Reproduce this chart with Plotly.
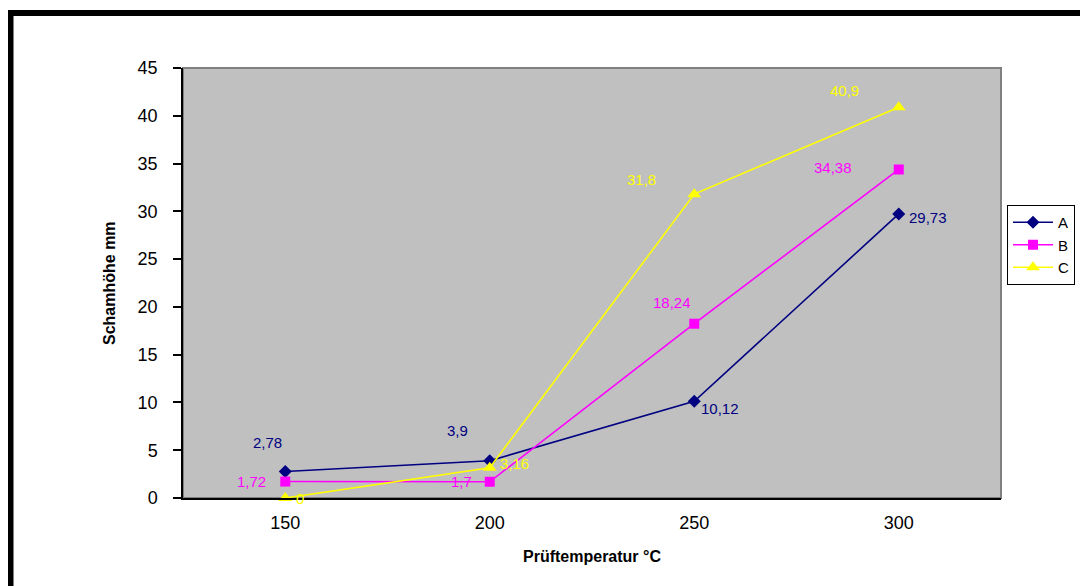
import plotly.graph_objects as go

categories = ["150", "200", "250", "300"]
series_names = ["A", "B", "C"]
values_a = [2.78, 3.9, 10.12, 29.73]
values_b = [1.72, 1.7, 18.24, 34.38]
values_c = [0, 3.16, 31.8, 40.9]
label_a = ["2,78", "3,9", "10,12", "29,73"]
label_b = ["1,72", "1,7", "18,24", "34,38"]
label_c = ["0", "3,16", "31,8", "40,9"]

colors = ["#000080", "#FF00FF", "#FFFF00"]
symbols = ["diamond", "square", "triangle-up"]
msizes = [10, 10, 12]
# label offsets (pixels) relative to each point
offsets = [
    [(-18, 29), (-32, 30), (26, -7), (29, -4)],
    [(-34, 0), (-28, 0), (-22, 21), (-66, 2)],
    [(15, 0), (25, 4), (-53, 15), (-54, 17)],
]

FONT = "Liberation Sans, Arial, sans-serif"
OFF = 8  # page body margin
W, H = 1088 - OFF, 586 - OFF
PL, PR, PT, PB = 183, 1001, 68, 498  # plot area in page coordinates
L, T = PL - OFF, PT - OFF
R, B = W - (PR - OFF), H - (PB - OFF)
pw, ph = PR - PL, PB - PT


def px(xp):
    return (xp - PL) / pw


def py(yp):
    return (PB - yp) / ph


fig = go.Figure()
all_vals = [values_a, values_b, values_c]
all_labels = [label_a, label_b, label_c]
annotations = []
for i, name in enumerate(series_names):
    fig.add_trace(go.Scatter(
        x=categories, y=all_vals[i], name=name, mode="lines+markers",
        line=dict(color=colors[i], width=1.6),
        marker=dict(symbol=symbols[i], size=msizes[i], color=colors[i]),
        cliponaxis=False,
    ))
    for j, cat in enumerate(categories):
        dx, dy = offsets[i][j]
        annotations.append(dict(
            x=j, y=all_vals[i][j], xref="x", yref="y", text=all_labels[i][j],
            showarrow=False, xshift=dx, yshift=dy,
            xanchor="center", yanchor="middle",
            font=dict(family=FONT, size=15, color=colors[i]),
        ))

# axis titles
annotations.append(dict(
    x=0.5, y=py(556), xref="paper", yref="paper", text="<b>Prüftemperatur °C</b>",
    showarrow=False, xanchor="center", yanchor="middle",
    font=dict(family=FONT, size=16, color="black"),
))
annotations.append(dict(
    x=px(109), y=0.5, xref="paper", yref="paper", text="<b>Schamhöhe mm</b>",
    showarrow=False, textangle=-90, xanchor="center", yanchor="middle",
    font=dict(family=FONT, size=16, color="black"),
))

shapes = [
    # plot area gray frame
    dict(type="rect", xref="paper", yref="paper", x0=0, x1=1, y0=0, y1=1,
         line=dict(color="#808080", width=2), layer="below"),
    # outer chart border (top-left visible)
    dict(type="rect", xref="paper", yref="paper",
         x0=px(10.5), x1=px(1150), y0=py(650), y1=py(13),
         line=dict(color="black", width=6)),
]

fig.update_layout(
    width=W, height=H,
    margin=dict(l=L, r=R, t=T, b=B, autoexpand=False),
    paper_bgcolor="white", plot_bgcolor="#C0C0C0",
    font=dict(family=FONT, color="black"),
    showlegend=True,
    legend=dict(
        x=px(1007), y=py(205), xanchor="left", yanchor="top",
        bordercolor="black", borderwidth=1, bgcolor="white",
        font=dict(family=FONT, size=15, color="black"),
        itemwidth=40,
    ),
    annotations=annotations, shapes=shapes,
)
fig.update_xaxes(
    type="category", categoryorder="array", categoryarray=categories,
    range=[-0.5, 3.5], showline=True, linecolor="black", linewidth=1.5,
    ticks="", showgrid=False, zeroline=False,
    tickfont=dict(family=FONT, size=18, color="black"), ticklabelstandoff=8,
)
fig.update_yaxes(
    range=[0, 45], dtick=5, showline=True, linecolor="black", linewidth=1.5,
    ticks="outside", ticklen=8, tickcolor="black", tickwidth=1.5,
    showgrid=False, zeroline=False,
    tickfont=dict(family=FONT, size=18, color="black"), ticklabelstandoff=12,
)

fig.write_html("out.html")
